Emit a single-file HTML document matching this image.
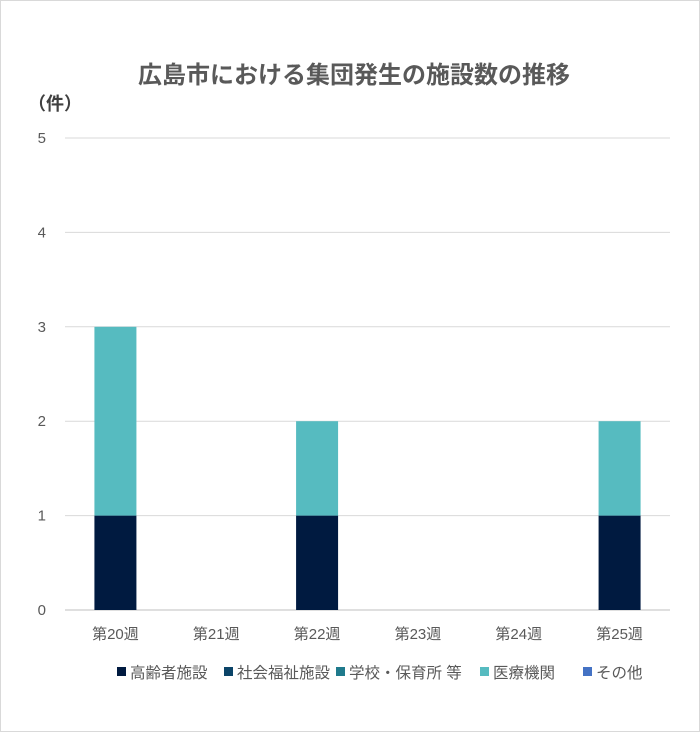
<!DOCTYPE html>
<html><head><meta charset="utf-8">
<style>
body{margin:0;background:#fff;}
#c{position:relative;width:698px;height:730px;border:1px solid #d9d9d9;background:#fff;}
text{font-family:"Liberation Sans","Noto Sans CJK JP",sans-serif;}
</style></head><body>
<div id="c">
<svg id="s" width="700" height="732" viewBox="0 0 700 732" style="position:absolute;left:-1px;top:-1px">
<text x="354" y="83" text-anchor="middle" font-size="24" font-weight="bold" fill="#595959">広島市における集団発生の施設数の推移</text>
<text x="28" y="110" font-size="18" font-weight="bold" fill="#404040">（件）</text>
<g id="grid"></g><g id="bars"></g><g id="xl"></g><g id="legend"></g>
</svg></div>
<script>
const categories=["第20週","第21週","第22週","第23週","第24週","第25週"];
const seriesNames=["高齢者施設","社会福祉施設","学校・保育所 等","医療機関","その他"];
const seriesColors=["#001a40","#0b4468","#1f7a8c","#56bbc0","#4472c4"];
const elderly=[1,0,1,0,0,1];
const welfare=[0,0,0,0,0,0];
const school=[0,0,0,0,0,0];
const medical=[2,0,1,0,0,1];
const other=[0,0,0,0,0,0];
const yTicks=[0,1,2,3,4,5];
const series=[elderly,welfare,school,medical,other];
const NS="http://www.w3.org/2000/svg";
const x0=65,x1=670,yb=610,yt=138,ymax=5;
const band=(x1-x0)/categories.length,bw=42;
const y=v=>yb-(v/ymax)*(yb-yt);
const xc=i=>x0+band*(i+0.5);
function mk(t,a,p){const e=document.createElementNS(NS,t);for(const k in a)e.setAttribute(k,a[k]);p.appendChild(e);return e;}
const g=document.getElementById('grid');
yTicks.forEach(t=>{
 const l=mk('line',{x1:x0,x2:x1,y1:y(t),y2:y(t),stroke:t===0?'#bfbfbf':'#d9d9d9','stroke-width':1},g);
 
 
 const tx=mk('text',{x:46,y:y(t)+5,'text-anchor':'end','font-size':15,fill:'#595959'},g);
 tx.textContent=t;
 
 
});
const b=document.getElementById('bars');
categories.forEach((c,i)=>{
 let acc=0;
 series.forEach((s,j)=>{
  const v=s[i];if(!v)return;
  const r=mk('rect',{x:xc(i)-bw/2,y:y(acc+v),width:bw,height:y(acc)-y(acc+v),fill:seriesColors[j]},b);
  
  
  acc+=v;
 });
 const t=mk('text',{x:xc(i),y:639,'text-anchor':'middle','font-size':15,fill:'#595959'},document.getElementById('xl'));
 t.textContent=c;
 
 
});
const lg=document.getElementById('legend');
const lx=[117,224,336,480,583];
seriesNames.forEach((n,j)=>{
 const r=mk('rect',{x:lx[j],y:667,width:9,height:9,fill:seriesColors[j]},lg);
 
 
 const t=mk('text',{x:lx[j]+13,y:678,'font-size':15.5,fill:'#595959'},lg);
 t.textContent=n;
 
 
});
</script>
</body></html>
